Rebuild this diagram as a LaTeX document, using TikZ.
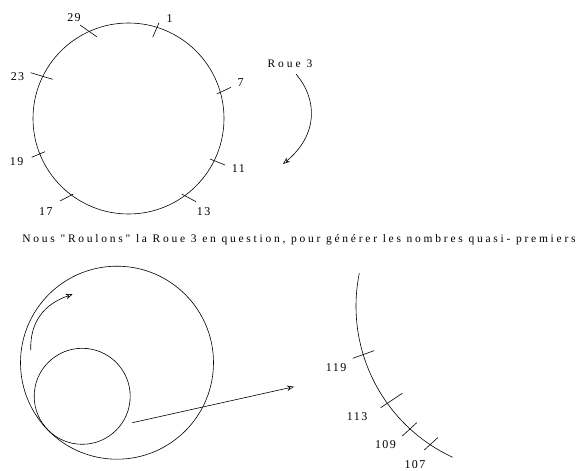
\documentclass[tikz,border=0pt]{standalone}
\usepackage{fontspec}
\setmainfont{Liberation Serif}
\newfontfamily\capfont[LetterSpace=24]{Liberation Serif}
\newfontfamily\roufont[LetterSpace=26]{Liberation Serif}
\newfontfamily\numfont[LetterSpace=12]{Liberation Serif}
\usetikzlibrary{arrows.meta}
\begin{document}
\begin{tikzpicture}[x=1pt,y=-1pt,line width=0.6pt,
  numlabel/.style={font=\numfont\fontsize{12}{12}\selectfont,inner sep=0pt},
  captext/.style={font=\capfont\fontsize{11.5}{12}\selectfont,inner sep=0pt},
  routext/.style={font=\roufont\fontsize{11.5}{12}\selectfont,inner sep=0pt},
  openhead/.style={-{Stealth[open,length=7pt,width=5.5pt]}},
  tickline/.style={line width=0.6pt}]
\useasboundingbox (0,0) rectangle (579,471);
\clip (0,0) rectangle (579,471);
% top wheel
\draw (128.5,118.5) circle[radius=95.5];
\draw[tickline] (152.7,37.3) -- (159,22.7);
\draw[tickline] (216.7,94) -- (231,87.3);
\draw[tickline] (210,159) -- (225,165);
\draw[tickline] (181.7,194) -- (196,201.7);
\draw[tickline] (60,201) -- (73.3,194);
\draw[tickline] (31.7,157.3) -- (45,151.7);
\draw[tickline] (30.7,72.7) -- (52.7,79.3);
\draw[tickline] (80,25) -- (96.7,36.7);
\node[numlabel] (n1) at (169.7,18.3) {1};
\node[numlabel] (n7) at (240.7,82.8) {7};
\node[numlabel] (n11) at (238.3,168.3) {11};
\node[numlabel] (n13) at (203.7,211.3) {13};
\node[numlabel] (n17) at (45.8,211.3) {17};
\node[numlabel] (n19) at (16.7,162) {19};
\node[numlabel] (n23) at (17.5,76.3) {23};
\node[numlabel] (n29) at (74,17.5) {29};
% Roue 3
\node[routext] (roue) at (290,63.7) {Roue 3};
\coordinate (r1) at (296,74);
\coordinate (r2) at (283,164);
\draw[openhead] (r1) .. controls (318,100) and (318,135) .. (r2);
% caption
\node[captext] (caption) at (299,240) {Nous "Roulons" la Roue 3 en question, pour générer les nombres quasi- premiers};
% bottom wheels
\draw (117,362.7) circle[radius=96.5];
\draw (82.2,396.3) circle[radius=48];
\coordinate (a1) at (30.7,350);
\coordinate (a2) at (72.7,294.3);
\draw[openhead] (a1) .. controls (30,322) and (44,304) .. (a2);
\coordinate (b1) at (132.3,422.7);
\coordinate (b2) at (294,386.7);
\draw[openhead] (b1) -- (b2);
% zoomed arc
\draw (359.3,273.3) arc[start angle=191.4,end angle=114.8,radius=166.4];
\draw[tickline] (352.7,358.3) -- (374,350.7);
\draw[tickline] (380.7,407.7) -- (402.3,393.3);
\draw[tickline] (402.3,436) -- (416.7,422.7);
\draw[tickline] (424.3,450) -- (437.7,437.7);
\node[numlabel] (n119) at (336.2,367.8) {119};
\node[numlabel] (n113) at (357.2,416.7) {113};
\node[numlabel] (n109) at (385.5,445) {109};
\node[numlabel] (n107) at (415,465) {107};
\end{tikzpicture}
\end{document}
